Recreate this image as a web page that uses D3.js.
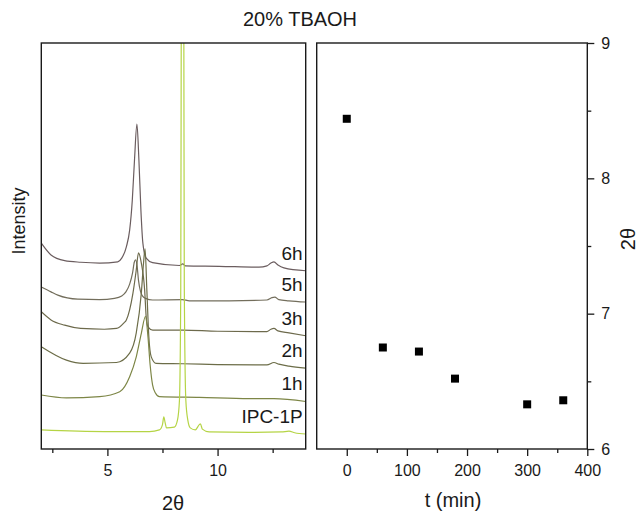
<!DOCTYPE html>
<html lang="en">

<head>
    <meta charset="UTF-8">
    <title>20% TBAOH</title>
    <script src="https://d3js.org/d3.v7.min.js"></script>
    <style>
        body {
            margin: 0;
            background: #fff;
            font-family: "Liberation Sans", Arial, sans-serif;
        }

        .curve {
            fill: none;
            stroke-width: 1.2px;
        }

        .tick text {
            font-family: "Liberation Sans", Arial, sans-serif;
            font-size: 16px;
            fill: #1a1a1a;
        }

        .tick line {
            stroke: #1a1a1a;
            stroke-width: 1.3px;
        }
    </style>
</head>

<body>
    <div id="chart"></div>

    <script>
        // XRD patterns (2θ, intensity, already stacked)
        const p6h = [[2.0, 50.7], [2.44, 47.8], [3.06, 46.4], [3.79, 46.0], [4.65, 45.8], [5.47, 46.1], [5.65, 47.0],
            [5.86, 49.8], [6.01, 53.9], [6.13, 61.3], [6.23, 71.2], [6.34, 80.0], [6.43, 71.2], [6.52, 58.9], [6.61, 50.7],
            [6.76, 47.0], [7.05, 45.9], [8.27, 45.2], [8.42, 45.6], [8.54, 45.1], [10.07, 45.0], [11.88, 44.8], [12.24, 45.1],
            [12.42, 45.8], [12.56, 46.1], [12.74, 45.3], [13.01, 44.6], [14.0, 43.9]];
        const p5h = [[2.0, 39.9], [2.44, 38.7], [2.75, 37.9], [3.66, 36.9], [4.65, 36.8], [5.32, 37.1], [5.65, 37.7],
            [5.84, 38.7], [6.01, 40.6], [6.14, 43.3], [6.22, 46.0], [6.28, 46.6], [6.35, 45.0], [6.41, 41.6], [6.50, 38.9],
            [6.59, 37.7], [6.73, 37.1], [7.05, 36.7], [8.40, 36.8], [8.72, 36.5], [10.52, 36.5], [12.24, 36.7], [12.47, 37.3],
            [12.60, 37.4], [12.78, 36.8], [13.24, 36.5], [14.0, 36.2]];
        const p3h = [[2.0, 33.8], [2.44, 31.8], [3.06, 30.5], [3.79, 29.7], [4.86, 29.5], [5.41, 29.7], [5.74, 31.0],
            [5.86, 31.8], [6.16, 38.4], [6.31, 44.1], [6.41, 48.3], [6.54, 45.8], [6.69, 39.2], [6.76, 32.6], [6.84, 30.1],
            [7.06, 29.3], [8.42, 29.3], [10.0, 29.0], [12.24, 28.9], [12.42, 29.5], [12.56, 29.7], [12.74, 29.1],
            [13.24, 28.6], [14.0, 27.9]];
        const p2h = [[2.0, 25.2], [3.14, 21.9], [3.90, 21.1], [5.41, 21.3], [6.01, 23.6], [6.31, 28.6], [6.54, 38.4],
            [6.64, 45.8], [6.71, 49.3], [6.79, 39.2], [6.88, 27.7], [6.99, 22.7], [7.21, 21.1], [8.42, 21.0], [10.0, 20.8],
            [12.24, 20.7], [12.56, 21.3], [12.78, 20.9], [13.24, 20.4], [14.0, 19.9]];
        const p1h = [[2.0, 13.3], [3.14, 12.6], [4.65, 12.9], [5.56, 14.1], [6.01, 17.8], [6.31, 22.7], [6.54, 28.5],
            [6.73, 32.7], [6.84, 27.7], [6.94, 20.7], [7.05, 15.8], [7.18, 13.8], [7.36, 12.9], [9.17, 12.7], [11.43, 12.4],
            [12.56, 12.4], [14.0, 11.7]];
        const pIPC = [[2.0, 4.7], [4.86, 4.3], [6.91, 4.3], [7.36, 4.7], [7.50, 6.0], [7.56, 7.9], [7.62, 6.5], [7.68, 5.2],
            [8.04, 5.4], [8.18, 7.1], [8.27, 12.0], [8.33, 40.0], [8.35, 100.0], [8.41, 300.0], [8.47, 100.0], [8.49, 40.0],
            [8.56, 12.0], [8.65, 7.1], [8.76, 5.2], [8.99, 4.7], [9.17, 6.0], [9.22, 6.2], [9.31, 4.9], [9.62, 4.2],
            [11.43, 4.1], [12.9, 4.2], [13.24, 4.4], [13.5, 4.0], [14.0, 3.7]];

        const sampleNames = ["6h", "5h", "3h", "2h", "1h", "IPC-1P"];
        const patterns = [p6h, p5h, p3h, p2h, p1h, pIPC];
        const colors = ["#6b5d5f", "#736e5c", "#6d6a4c", "#6c6d48", "#7d8646", "#b5d445"];

        // peak position vs reaction time
        const times = [0, 60, 120, 180, 300, 360];
        const peakPos = [8.44, 6.75, 6.72, 6.52, 6.33, 6.36];

        const W = 638, H = 513;
        const plotTop = 43, plotBottom = 449;
        const left1 = 41.3, right1 = 305.7;
        const left2 = 316.7, right2 = 587.3;

        const svg = d3.select("#chart").append("svg")
            .attr("width", W)
            .attr("height", H);

        svg.append("text")
            .attr("x", 300)
            .attr("y", 26)
            .attr("text-anchor", "middle")
            .style("font-size", "20px")
            .attr("fill", "#1a1a1a")
            .text("20% TBAOH");

        // ---------- left panel ----------
        const x1 = d3.scaleLinear().domain([2, 14]).range([left1, right1]);
        const y1 = d3.scaleLinear().domain([0, 100]).range([plotBottom, plotTop]);

        svg.append("clipPath").attr("id", "clip1")
            .append("rect")
            .attr("x", left1).attr("y", plotTop)
            .attr("width", right1 - left1).attr("height", plotBottom - plotTop);

        const line = d3.line()
            .x(d => x1(d[0]))
            .y(d => y1(d[1]))
            .curve(d3.curveMonotoneX);

        const curves = svg.append("g").attr("clip-path", "url(#clip1)");
        patterns.forEach((p, i) => {
            curves.append("path")
                .datum(p)
                .attr("class", "curve")
                .attr("stroke", colors[i])
                .attr("d", line);
        });

        patterns.forEach((p, i) => {
            svg.append("text")
                .attr("x", right1 - 3)
                .attr("y", y1(p[p.length - 1][1]) - 11)
                .attr("text-anchor", "end")
                .style("font-size", "19px")
                .attr("fill", "#1a1a1a")
                .text(sampleNames[i]);
        });

        svg.append("g")
            .attr("transform", `translate(0,${plotBottom})`)
            .call(d3.axisBottom(x1).tickValues([5, 10]).tickSize(7).tickPadding(9))
            .call(g => g.select(".domain").remove());
        svg.append("g")
            .attr("transform", `translate(0,${plotBottom})`)
            .call(d3.axisBottom(x1).tickValues([2.5, 7.5, 12.5]).tickSize(4).tickFormat(""))
            .call(g => g.select(".domain").remove());

        svg.append("rect")
            .attr("x", left1).attr("y", plotTop)
            .attr("width", right1 - left1).attr("height", plotBottom - plotTop)
            .attr("fill", "none").attr("stroke", "#1a1a1a").attr("stroke-width", 1.4);

        svg.append("text")
            .attr("x", (left1 + right1) / 2 - 0.5)
            .attr("y", 510)
            .attr("text-anchor", "middle")
            .style("font-size", "20px")
            .attr("fill", "#1a1a1a")
            .text("2θ");

        svg.append("text")
            .attr("transform", "rotate(-90)")
            .attr("x", -221)
            .attr("y", 25)
            .attr("text-anchor", "middle")
            .style("font-size", "18px")
            .attr("fill", "#1a1a1a")
            .text("Intensity");

        // ---------- right panel ----------
        const x2 = d3.scaleLinear().domain([-50, 400]).range([left2, right2]);
        const y2 = d3.scaleLinear().domain([6, 9]).range([plotBottom, plotTop]);

        svg.append("g")
            .attr("transform", `translate(0,${plotBottom})`)
            .call(d3.axisBottom(x2).tickValues([0, 100, 200, 300, 400]).tickSize(7).tickPadding(9))
            .call(g => g.select(".domain").remove());
        svg.append("g")
            .attr("transform", `translate(0,${plotBottom})`)
            .call(d3.axisBottom(x2).tickValues([50, 150, 250, 350]).tickSize(4).tickFormat(""))
            .call(g => g.select(".domain").remove());

        svg.append("g")
            .attr("transform", `translate(${right2},0)`)
            .call(d3.axisRight(y2).tickValues([6, 7, 8, 9]).tickSize(7).tickPadding(7).tickFormat(d3.format("d")))
            .call(g => g.select(".domain").remove());
        svg.append("g")
            .attr("transform", `translate(${right2},0)`)
            .call(d3.axisRight(y2).tickValues([6.5, 7.5, 8.5]).tickSize(4).tickFormat(""))
            .call(g => g.select(".domain").remove());

        svg.append("rect")
            .attr("x", left2).attr("y", plotTop)
            .attr("width", right2 - left2).attr("height", plotBottom - plotTop)
            .attr("fill", "none").attr("stroke", "#1a1a1a").attr("stroke-width", 1.4);

        svg.selectAll(".pt")
            .data(times)
            .enter().append("rect")
            .attr("class", "pt")
            .attr("x", (d, i) => x2(d) - 4)
            .attr("y", (d, i) => y2(peakPos[i]) - 4)
            .attr("width", 8)
            .attr("height", 8)
            .attr("fill", "#000");

        svg.append("text")
            .attr("x", 453)
            .attr("y", 507)
            .attr("text-anchor", "middle")
            .style("font-size", "20px")
            .attr("fill", "#1a1a1a")
            .text("t (min)");

        svg.append("text")
            .attr("transform", "rotate(-90)")
            .attr("x", -239)
            .attr("y", 635)
            .attr("text-anchor", "middle")
            .style("font-size", "20px")
            .attr("fill", "#1a1a1a")
            .text("2θ");
    </script>
</body>

</html>
